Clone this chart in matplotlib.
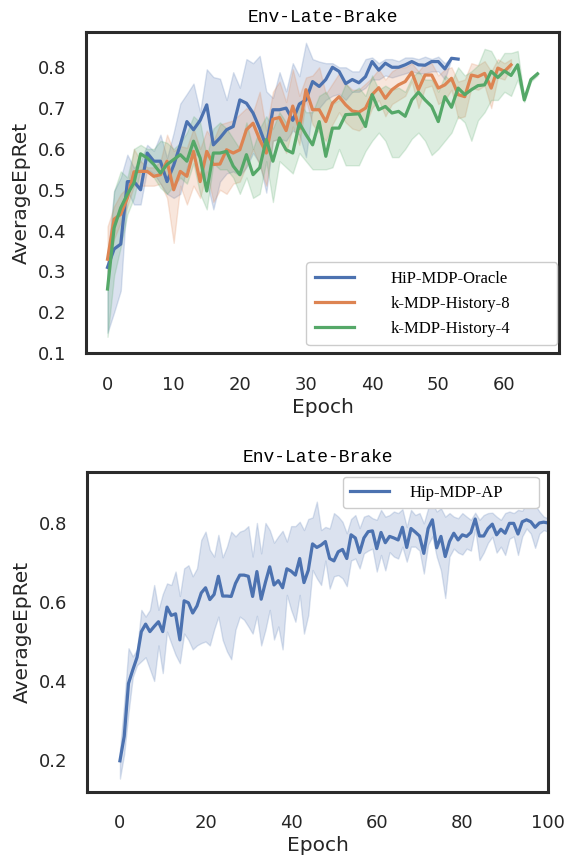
import matplotlib
matplotlib.use("Agg")
import matplotlib.pyplot as plt
import numpy as np

# ---- top panel: three methods ----
oracle_mean = [0.31, 0.355, 0.367, 0.52, 0.52, 0.50, 0.59, 0.57, 0.57, 0.52,
               0.56, 0.61, 0.667, 0.647, 0.67, 0.708, 0.61, 0.627, 0.647, 0.655,
               0.72, 0.712, 0.688, 0.65, 0.606, 0.696, 0.696, 0.70, 0.67, 0.71,
               0.72, 0.765, 0.753, 0.77, 0.80, 0.79, 0.76, 0.77, 0.762, 0.777,
               0.814, 0.793, 0.81, 0.80, 0.80, 0.806, 0.814, 0.806, 0.805, 0.814,
               0.814, 0.796, 0.822, 0.82]
oracle_hi = [0.34, 0.497, 0.53, 0.586, 0.554, 0.57, 0.61, 0.595, 0.635, 0.578,
             0.64, 0.711, 0.735, 0.76, 0.69, 0.795, 0.776, 0.772, 0.72, 0.788,
             0.75, 0.82, 0.81, 0.828, 0.741, 0.725, 0.788, 0.741, 0.81, 0.778,
             0.86, 0.82, 0.814, 0.81, 0.81, 0.80, 0.80, 0.79, 0.79, 0.82,
             0.824, 0.81, 0.82, 0.82, 0.815, 0.824, 0.824, 0.82, 0.826, 0.82,
             0.826, 0.81, 0.822, 0.82]
oracle_lo = [0.15, 0.20, 0.253, 0.497, 0.464, 0.464, 0.55, 0.54, 0.515, 0.49,
             0.48, 0.49, 0.555, 0.59, 0.58, 0.52, 0.452, 0.52, 0.54, 0.545,
             0.535, 0.555, 0.59, 0.565, 0.493, 0.62, 0.625, 0.62, 0.645, 0.635,
             0.58, 0.70, 0.70, 0.72, 0.73, 0.735, 0.72, 0.74, 0.74, 0.75,
             0.77, 0.77, 0.78, 0.775, 0.78, 0.785, 0.79, 0.785, 0.785, 0.79,
             0.79, 0.77, 0.822, 0.82]

hist8_mean = [0.33, 0.428, 0.44, 0.48, 0.544, 0.545, 0.545, 0.533, 0.537, 0.57,
              0.50, 0.545, 0.533, 0.594, 0.52, 0.594, 0.562, 0.563, 0.598, 0.59,
              0.598, 0.647, 0.663, 0.623, 0.59, 0.673, 0.677, 0.645, 0.705, 0.65,
              0.745, 0.696, 0.696, 0.667, 0.712, 0.728, 0.708, 0.693, 0.69, 0.70,
              0.733, 0.75, 0.724, 0.745, 0.757, 0.765, 0.788, 0.745, 0.781, 0.781,
              0.749, 0.757, 0.773, 0.733, 0.728, 0.781, 0.777, 0.785, 0.749, 0.798,
              0.79, 0.806]
hist8_hi = [0.41, 0.46, 0.49, 0.505, 0.60, 0.57, 0.555, 0.555, 0.57, 0.635,
            0.595, 0.607, 0.603, 0.65, 0.60, 0.645, 0.62, 0.66, 0.665, 0.67,
            0.685, 0.70, 0.69, 0.74, 0.645, 0.74, 0.765, 0.715, 0.795, 0.73,
            0.775, 0.78, 0.80, 0.735, 0.76, 0.785, 0.76, 0.745, 0.745, 0.76,
            0.775, 0.795, 0.77, 0.79, 0.80, 0.80, 0.81, 0.79, 0.81, 0.81,
            0.78, 0.795, 0.80, 0.765, 0.77, 0.81, 0.805, 0.815, 0.79, 0.82,
            0.81, 0.82]
hist8_lo = [0.30, 0.38, 0.42, 0.46, 0.51, 0.51, 0.51, 0.51, 0.515, 0.48,
            0.37, 0.51, 0.464, 0.51, 0.48, 0.545, 0.47, 0.50, 0.49, 0.515,
            0.52, 0.56, 0.60, 0.56, 0.51, 0.62, 0.625, 0.59, 0.655, 0.61,
            0.72, 0.66, 0.64, 0.62, 0.66, 0.69, 0.665, 0.65, 0.645, 0.66,
            0.70, 0.72, 0.68, 0.71, 0.72, 0.73, 0.765, 0.70, 0.75, 0.755,
            0.71, 0.72, 0.745, 0.675, 0.68, 0.75, 0.745, 0.755, 0.70, 0.775,
            0.77, 0.80]

hist4_mean = [0.257, 0.407, 0.456, 0.489, 0.517, 0.588, 0.578, 0.562, 0.541, 0.562,
              0.574, 0.586, 0.57, 0.619, 0.578, 0.497, 0.59, 0.59, 0.594, 0.558,
              0.537, 0.586, 0.537, 0.554, 0.623, 0.57, 0.627, 0.598, 0.59, 0.663,
              0.635, 0.61, 0.667, 0.582, 0.651, 0.651, 0.684, 0.685, 0.686, 0.655,
              0.733, 0.696, 0.704, 0.688, 0.692, 0.68, 0.72, 0.739, 0.72, 0.704,
              0.667, 0.728, 0.702, 0.749, 0.733, 0.745, 0.755, 0.757, 0.79, 0.775,
              0.791, 0.78, 0.806, 0.72, 0.77, 0.784]
hist4_hi = [0.30, 0.497, 0.545, 0.53, 0.60, 0.61, 0.60, 0.60, 0.62, 0.615,
            0.60, 0.615, 0.64, 0.68, 0.665, 0.58, 0.65, 0.665, 0.65, 0.625,
            0.60, 0.665, 0.60, 0.65, 0.68, 0.65, 0.69, 0.665, 0.68, 0.716,
            0.69, 0.69, 0.73, 0.74, 0.71, 0.72, 0.76, 0.74, 0.75, 0.73,
            0.78, 0.745, 0.755, 0.745, 0.75, 0.74, 0.775, 0.79, 0.77, 0.77,
            0.74, 0.78, 0.765, 0.80, 0.78, 0.79, 0.805, 0.845, 0.84, 0.81,
            0.835, 0.835, 0.84, 0.725, 0.775, 0.788]
hist4_lo = [0.14, 0.29, 0.36, 0.44, 0.48, 0.55, 0.545, 0.53, 0.505, 0.49,
            0.51, 0.53, 0.515, 0.565, 0.49, 0.452, 0.565, 0.55, 0.55, 0.53,
            0.49, 0.53, 0.48, 0.49, 0.57, 0.47, 0.57, 0.555, 0.54, 0.59,
            0.57, 0.55, 0.55, 0.55, 0.555, 0.60, 0.56, 0.56, 0.56, 0.595,
            0.62, 0.64, 0.62, 0.58, 0.58, 0.60, 0.625, 0.64, 0.62, 0.585,
            0.60, 0.62, 0.64, 0.68, 0.665, 0.62, 0.67, 0.69, 0.72, 0.72,
            0.74, 0.73, 0.77, 0.715, 0.765, 0.78]

# ---- bottom panel: Hip-MDP-AP ----
ap_mean = [0.198, 0.26, 0.394, 0.428, 0.46, 0.525, 0.544, 0.525, 0.538, 0.55,
           0.525, 0.587, 0.566, 0.57, 0.504, 0.603, 0.598, 0.572, 0.59, 0.623,
           0.636, 0.606, 0.619, 0.665, 0.615, 0.615, 0.614, 0.647, 0.668, 0.668,
           0.665, 0.614, 0.677, 0.607, 0.65, 0.689, 0.643, 0.654, 0.636, 0.684,
           0.678, 0.668, 0.71, 0.649, 0.68, 0.747, 0.738, 0.744, 0.753, 0.71,
           0.704, 0.727, 0.733, 0.71, 0.77, 0.762, 0.725, 0.762, 0.778, 0.78,
           0.735, 0.776, 0.75, 0.766, 0.762, 0.757, 0.789, 0.738, 0.786, 0.777,
           0.767, 0.723, 0.786, 0.808, 0.737, 0.766, 0.715, 0.753, 0.774, 0.757,
           0.77, 0.766, 0.776, 0.81, 0.767, 0.767, 0.786, 0.797, 0.77, 0.784,
           0.774, 0.799, 0.799, 0.772, 0.803, 0.808, 0.803, 0.789, 0.80, 0.802, 0.80]
ap_hi = [0.225, 0.343, 0.483, 0.462, 0.48, 0.58, 0.563, 0.58, 0.643, 0.58,
         0.62, 0.647, 0.643, 0.677, 0.615, 0.685, 0.693, 0.665, 0.685, 0.757,
         0.778, 0.732, 0.715, 0.77, 0.713, 0.74, 0.778, 0.766, 0.778, 0.782,
         0.792, 0.715, 0.80, 0.723, 0.80, 0.782, 0.75, 0.766, 0.78, 0.753,
         0.792, 0.792, 0.803, 0.782, 0.81, 0.814, 0.854, 0.782, 0.79, 0.786,
         0.825, 0.816, 0.803, 0.774, 0.81, 0.82, 0.787, 0.816, 0.82, 0.812,
         0.808, 0.833, 0.816, 0.82, 0.829, 0.825, 0.835, 0.79, 0.833, 0.82,
         0.825, 0.799, 0.837, 0.85, 0.829, 0.837, 0.816, 0.825, 0.816, 0.812,
         0.825, 0.816, 0.808, 0.826, 0.808, 0.82, 0.825, 0.826, 0.816, 0.808,
         0.825, 0.829, 0.825, 0.833, 0.831, 0.85, 0.841, 0.846, 0.829, 0.816, 0.812]
ap_lo = [0.153, 0.216, 0.32, 0.41, 0.44, 0.45, 0.46, 0.43, 0.40, 0.49,
         0.42, 0.525, 0.495, 0.466, 0.445, 0.52, 0.504, 0.48, 0.49, 0.496,
         0.50, 0.49, 0.53, 0.563, 0.504, 0.475, 0.455, 0.53, 0.563, 0.555,
         0.538, 0.52, 0.565, 0.49, 0.53, 0.58, 0.505, 0.538, 0.48, 0.618,
         0.58, 0.55, 0.618, 0.52, 0.567, 0.681, 0.66, 0.643, 0.705, 0.634,
         0.665, 0.668, 0.66, 0.64, 0.705, 0.71, 0.685, 0.723, 0.73, 0.735,
         0.677, 0.719, 0.68, 0.726, 0.715, 0.71, 0.74, 0.702, 0.74, 0.74,
         0.73, 0.672, 0.745, 0.766, 0.715, 0.68, 0.61, 0.715, 0.735, 0.725,
         0.72, 0.735, 0.73, 0.785, 0.706, 0.725, 0.75, 0.765, 0.725, 0.74,
         0.719, 0.76, 0.766, 0.719, 0.766, 0.786, 0.773, 0.737, 0.773, 0.782, 0.778]

BLUE, ORANGE, GREEN = "#4C72B0", "#DD8452", "#55A868"
TITLE = "Env-Late-Brake"

plt.rcParams.update({
    "font.family": "DejaVu Sans",
    "axes.edgecolor": "#2b2b2b",
    "axes.linewidth": 2.2,
    "xtick.major.size": 0,
    "ytick.major.size": 0,
    "xtick.major.pad": 16,
    "ytick.major.pad": 14,
    "xtick.color": "#262626",
    "ytick.color": "#262626",
    "axes.labelcolor": "#262626",
})


def band(ax, mean, lo, hi, color, label):
    x = np.arange(len(mean))
    ax.fill_between(x, lo, hi, color=color, alpha=0.2)
    ax.plot(x, mean, color=color, lw=2.3, label=label)


def style(ax):
    ax.set_title(TITLE, family="Liberation Mono", fontsize=13, pad=7)
    ax.set_xlabel("Epoch", fontsize=14.5, labelpad=3)
    ax.set_ylabel("AverageEpRet", fontsize=14.5, labelpad=5)
    ax.tick_params(labelsize=13)


fig = plt.figure(figsize=(5.67, 8.58), dpi=100)

ax1 = fig.add_axes([0.1517, 0.5882, 0.8342, 0.3748])
band(ax1, oracle_mean, oracle_lo, oracle_hi, BLUE, "HiP-MDP-Oracle")
band(ax1, hist8_mean, hist8_lo, hist8_hi, ORANGE, "k-MDP-History-8")
band(ax1, hist4_mean, hist4_lo, hist4_hi, GREEN, "k-MDP-History-4")
ax1.set_xlim(-3.25, 68.25)
ax1.set_ylim(0.0995, 0.887)
ax1.set_yticks(np.arange(0.1, 0.85, 0.1))
style(ax1)
ax1.legend(loc="lower left", bbox_to_anchor=(0.466, 0.025, 0.53, 0.27),
           mode="expand", borderaxespad=0, prop={"family": "Liberation Serif", "size": 12},
           handlelength=2.35, handletextpad=2.2, labelspacing=0.55, borderpad=0.5,
           edgecolor="#cccccc", fancybox=True, framealpha=1)

ax2 = fig.add_axes([0.1534, 0.0769, 0.813, 0.373])
band(ax2, ap_mean, ap_lo, ap_hi, BLUE, "Hip-MDP-AP")
ax2.set_xlim(-7.7, 99.6)
ax2.set_ylim(0.119, 0.929)
ax2.set_yticks([0.2, 0.4, 0.6, 0.8])
ax2.set_xticks([0, 20, 40, 60, 80, 100])
style(ax2)
ax2.legend(loc="upper left", bbox_to_anchor=(0.555, 0.5, 0.425, 0.484),
           mode="expand", borderaxespad=0, prop={"family": "Liberation Serif", "size": 12},
           handlelength=2.35, handletextpad=1.2, borderpad=0.45,
           edgecolor="#cccccc", fancybox=True, framealpha=1)

fig.savefig("out.png", dpi=100)
